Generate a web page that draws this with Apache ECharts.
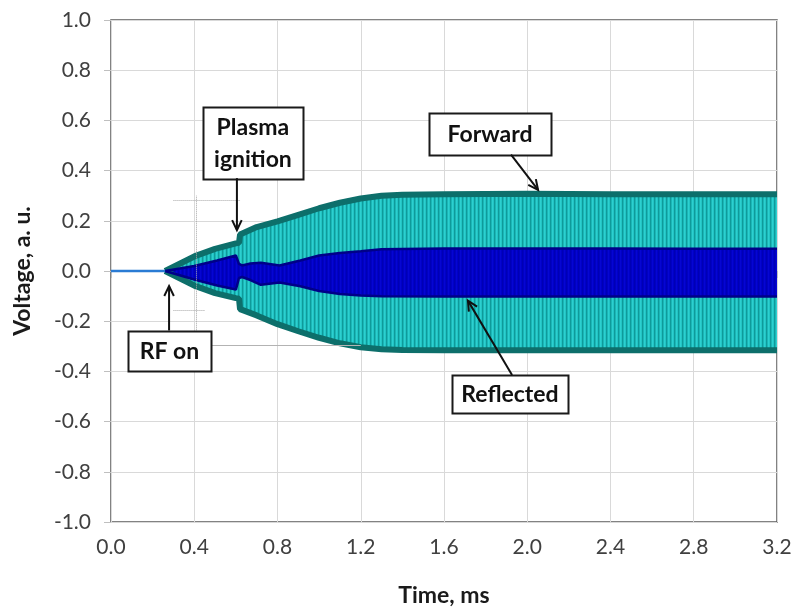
<!DOCTYPE html>
<html>
<head>
<meta charset="utf-8">
<script src="https://cdn.jsdelivr.net/npm/echarts@6/dist/echarts.min.js"></script>
<style>
  html, body { margin: 0; padding: 0; background: #fff; }
  #chart { width: 796px; height: 612px; }
</style>
</head>
<body>
<div id="chart"></div>
<script>
// envelope of the forward RF signal (centre of the dark edge)
const fwdTime  = [0.26, 0.40, 0.50, 0.60, 0.615, 0.62, 0.70, 0.80, 0.90, 1.00, 1.10, 1.20, 1.30, 1.40, 1.60, 2.00, 2.40, 2.80, 3.20];
const fwdUpper = [0.00, 0.058, 0.088, 0.110, 0.112, 0.145, 0.175, 0.198, 0.224, 0.250, 0.272, 0.289, 0.300, 0.304, 0.306, 0.308, 0.306, 0.306, 0.306];
const fwdLower = [0.00, -0.058, -0.088, -0.108, -0.110, -0.152, -0.177, -0.212, -0.240, -0.266, -0.288, -0.304, -0.312, -0.315, -0.316, -0.316, -0.316, -0.316, -0.316];

// envelope of the reflected signal
const refTime  = [0.26, 0.40, 0.51, 0.60, 0.608, 0.615, 0.63, 0.67, 0.72, 0.81, 0.91, 1.00, 1.10, 1.20, 1.30, 1.60, 2.00, 2.40, 2.80, 3.20];
const refUpper = [0.00, 0.020, 0.042, 0.062, 0.064, 0.028, 0.022, 0.030, 0.033, 0.022, 0.042, 0.062, 0.072, 0.079, 0.087, 0.090, 0.090, 0.090, 0.089, 0.089];
const refLower = [0.00, -0.034, -0.058, -0.074, -0.076, -0.028, -0.024, -0.036, -0.055, -0.046, -0.061, -0.080, -0.092, -0.098, -0.101, -0.102, -0.102, -0.102, -0.102, -0.102];

// before RF is switched on
const preTime  = [0.00, 0.26];
const preValue = [0.00, 0.00];

const xMin = 0, xMax = 3.2, xStep = 0.4;
const yMin = -1, yMax = 1, yStep = 0.2;

// faint leftovers of the scope screen grid
const scopeDotted = [
  [[0.41, -0.30], [0.41, 0.30]],
  [[0.30, 0.28], [0.62, 0.28]],
  [[0.30, -0.155], [0.45, -0.155]]
];
const scopeSolid = [
  [[0.47, -0.295], [1.20, -0.295]]
];

// text boxes with arrows (data coordinates)
const notes = [
  { text: 'Plasma\nignition', box: [0.682, 0.51], w: 100, h: 72, from: [0.605, 0.37], to: [0.605, 0.163] },
  { text: 'Forward', box: [1.821, 0.546], w: 122, h: 42, from: [1.922, 0.464], to: [2.052, 0.323] },
  { text: 'RF on', box: [0.281, -0.317], w: 83, h: 40, from: [0.279, -0.237], to: [0.279, -0.06] },
  { text: 'Reflected', box: [1.917, -0.49], w: 116, h: 38, from: [1.927, -0.414], to: [1.715, -0.118] }
];

const pairs = (ts, vs) => ts.map((t, i) => [t, vs[i]]);

// vertical stripe texture for the oscillation fill
const stripes = (w, colors) => {
  const c = document.createElement('canvas');
  c.width = w; c.height = 4;
  const ctx = c.getContext('2d');
  colors.forEach((col, i) => { ctx.fillStyle = col; ctx.fillRect(i, 0, 1, 4); });
  return { image: c, repeat: 'repeat' };
};
const tealFill = stripes(4, ['#2dd0d0', '#22c4c4', '#0f9a9a', '#1ab6b6']);
const blueFill = stripes(4, ['#0606d2', '#0000c8', '#0000b4', '#0000c4']);

const envelope = (name, data, edge, width, fill) => ({
  name, type: 'line', data, showSymbol: false, silent: true,
  lineStyle: { color: edge, width },
  areaStyle: { color: fill, opacity: 1 },
  z: 2
});

const toMarkLine = (segs, type, color) => segs.map(s => [
  { coord: s[0], lineStyle: { type, color, width: 1 } },
  { coord: s[1] }
]);

const labelFont = { fontFamily: 'Lato', fontSize: 21, color: '#404040' };
const nameFont = { fontFamily: 'Lato', fontWeight: 'bold', fontSize: 23, color: '#1a1a1a' };

const chart = echarts.init(document.getElementById('chart'));

chart.setOption({
  animation: false,
  grid: { left: 111, right: 19, top: 20, bottom: 90, show: true, borderColor: '#595959', borderWidth: 1.5 },
  xAxis: {
    type: 'value', min: xMin, max: xMax, interval: xStep,
    name: 'Time, ms', nameLocation: 'middle', nameGap: 62, nameTextStyle: nameFont,
    axisLine: { show: false },
    axisTick: { show: true, length: 7, lineStyle: { color: '#bfbfbf' } },
    axisLabel: Object.assign({ margin: 15, formatter: v => v.toFixed(1) }, labelFont),
    splitLine: { show: true, lineStyle: { color: '#d9d9d9', width: 1 } }
  },
  yAxis: {
    type: 'value', min: yMin, max: yMax, interval: yStep,
    name: 'Voltage, a. u.', nameLocation: 'middle', nameGap: 77, nameTextStyle: nameFont,
    axisLine: { show: false },
    axisTick: { show: true, length: 7, lineStyle: { color: '#bfbfbf' } },
    axisLabel: Object.assign({ margin: 20, formatter: v => v.toFixed(1) }, labelFont),
    splitLine: { show: true, lineStyle: { color: '#d9d9d9', width: 1 } }
  },
  series: [
    {
      name: 'Scope grid', type: 'line', data: [], silent: true, z: 1,
      markLine: {
        silent: true, symbol: 'none', label: { show: false }, animation: false,
        data: toMarkLine(scopeDotted, 'dotted', '#a6a6a6').concat(toMarkLine(scopeSolid, 'solid', '#b3b3b3'))
      }
    },
    envelope('Forward +', pairs(fwdTime, fwdUpper), '#0d6f6b', 6, tealFill),
    envelope('Forward -', pairs(fwdTime, fwdLower), '#0d6f6b', 6, tealFill),
    envelope('Reflected +', pairs(refTime, refUpper), '#000088', 2.5, blueFill),
    envelope('Reflected -', pairs(refTime, refLower), '#000088', 2.5, blueFill),
    {
      name: 'Off', type: 'line', data: pairs(preTime, preValue), showSymbol: false, silent: true,
      lineStyle: { color: '#2a7bd4', width: 2.5 }, z: 3
    }
  ]
});

// annotation boxes and arrows
const px = p => chart.convertToPixel({ gridIndex: 0 }, p);
const els = [];
notes.forEach(n => {
  const [cx, cy] = px(n.box);
  els.push({
    type: 'rect', z: 100,
    shape: { x: Math.round(cx - n.w / 2) + 0.5, y: Math.round(cy - n.h / 2) + 0.5, width: n.w, height: n.h },
    style: { fill: '#fff', stroke: '#1a1a1a', lineWidth: 2 }
  });
  els.push({
    type: 'text', z: 101, x: cx, y: cy + 1,
    style: { text: n.text, font: 'bold 23px Lato', fill: '#111', align: 'center', verticalAlign: 'middle', lineHeight: 32 }
  });
  const a = px(n.from), b = px(n.to);
  const ang = Math.atan2(b[1] - a[1], b[0] - a[0]);
  const L = 11, s = 0.45;
  const h1 = [b[0] - L * Math.cos(ang - s), b[1] - L * Math.sin(ang - s)];
  const h2 = [b[0] - L * Math.cos(ang + s), b[1] - L * Math.sin(ang + s)];
  els.push({ type: 'polyline', z: 100, shape: { points: [a, b] }, style: { stroke: '#111', lineWidth: 2, fill: null } });
  els.push({ type: 'polyline', z: 100, shape: { points: [h1, b, h2] }, style: { stroke: '#111', lineWidth: 2, fill: null } });
});
chart.setOption({ graphic: els });
</script>
</body>
</html>
